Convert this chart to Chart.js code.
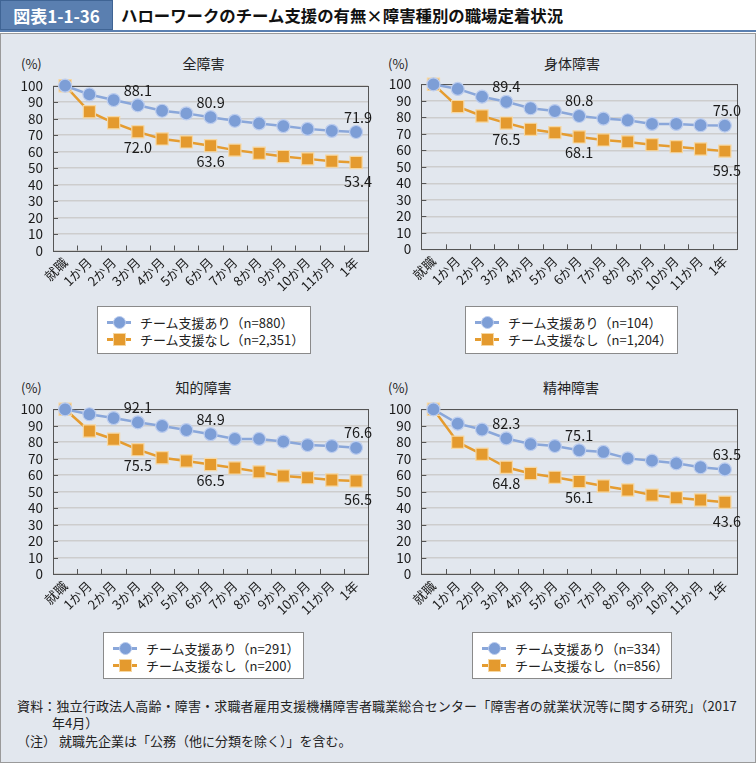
<!DOCTYPE html>
<html><head><meta charset="utf-8">
<script src="https://cdn.jsdelivr.net/npm/chart.js@4.4.1/dist/chart.umd.min.js"></script>
<style>
*{box-sizing:border-box}
body{margin:0;width:756px;height:763px;position:relative;background:#fff;font-family:"Noto Sans CJK JP","Noto Sans",sans-serif;color:#222;overflow:hidden}
.abs{position:absolute}
#tag{left:0;top:0;width:113px;height:30px;background:#5a7fb0;color:#fff;font-weight:bold;font-size:17px;line-height:30px;text-align:center;border:1px solid #3f6494}
#ttl{left:121px;top:0;height:30px;line-height:30px;font-weight:bold;font-size:16.4px;color:#111;white-space:nowrap}
#bar{left:0;top:30px;width:756px;height:2px;background:#5a7fb0}
#panel{left:0;top:33px;width:756px;height:730px;background:#e2e7ee;border:1px solid #9a9a9a}
.ct{font-size:14px;white-space:nowrap;transform:translate(-50%,-50%)}
.pc{font-size:13px;white-space:nowrap;transform:translate(0,-50%)}
.leg{background:#fff;border:1px solid #8a8a8a;font-size:13px}
.row{position:absolute;left:9px;height:17px;display:flex;align-items:center;white-space:nowrap}
.smp{position:relative;width:24px;height:17px;margin-right:9px}
.smp .ln{position:absolute;left:0;top:7px;width:24px;height:3px}
.smp .mk{position:absolute;left:6px;top:2px;width:13px;height:13px}
.foot{font-size:13px;white-space:nowrap;line-height:17px}
</style></head><body>
<div id="tag" class="abs">図表1-1-36</div>
<div id="ttl" class="abs">ハローワークのチーム支援の有無×障害種別の職場定着状況</div>
<div id="bar" class="abs"></div>
<div id="panel" class="abs"></div>
<div id="root"></div>
<div class="abs foot" style="left:17px;top:697px;letter-spacing:0.15px">資料：独立行政法人高齢・障害・求職者雇用支援機構障害者職業総合センター「障害者の就業状況等に関する研究」（2017</div>
<div class="abs foot" style="left:52px;top:714px">年4月）</div>
<div class="abs foot" style="left:17px;top:732px">（注）&nbsp;就職先企業は「公務（他に分類を除く）」を含む。</div>
<script>
// ---- data ----
const categories = ['就職','1か月','2か月','3か月','4か月','5か月','6か月','7か月','8か月','9か月','10か月','11か月','1年'];
const yTicks = [0,10,20,30,40,50,60,70,80,90,100];
const seriesNames = ['チーム支援あり','チーム支援なし'];
const labeledIndices = [3,6,12];

const panelTitles = ['全障害','身体障害','知的障害','精神障害'];
const nWith = ['880','104','291','334'];
const nWithout = ['2,351','1,204','200','856'];

const allWith      = [100,94.7,91.3,88.1,84.8,83.2,80.9,78.7,77.1,75.5,73.8,72.6,71.9];
const allWithout   = [100,84.2,77.5,72.0,67.7,65.9,63.6,60.9,59.0,57.0,55.6,54.2,53.4];
const physWith     = [100,97.2,92.5,89.4,85.5,83.8,80.8,79.2,78.2,76.0,76.0,75.2,75.0];
const physWithout  = [100,86.5,80.8,76.5,72.7,70.7,68.1,66.3,65.1,63.4,62.2,60.8,59.5];
const intWith      = [100,97.0,94.7,92.1,89.9,87.4,84.9,82.0,82.0,80.4,78.3,77.7,76.6];
const intWithout   = [100,86.8,81.8,75.5,70.6,68.6,66.5,64.4,62.0,59.5,58.5,57.1,56.5];
const mentWith     = [100,91.3,87.7,82.3,78.9,77.7,75.1,74.1,70.2,68.8,67.2,64.8,63.5];
const mentWithout  = [100,80.0,72.7,64.8,61.0,58.7,56.1,53.4,51.0,47.9,46.3,44.9,43.6];

const withSeries = [allWith, physWith, intWith, mentWith];
const withoutSeries = [allWithout, physWithout, intWithout, mentWithout];

// ---- layout (styles) ----
const FONT = '"Noto Sans CJK JP","Noto Sans",sans-serif';
const BLUE_LINE = '#8aa7da', BLUE_PT = '#7d9ed6', BLUE_EDGE = '#bccdef';
const ORG_LINE = '#e59c30', ORG_PT = '#e49a2e', ORG_EDGE = '#f6d7a2';
const layouts = [
  {cx:0,  cy:40,  pl:53,   pt:85.7,  pr:369, pb:250.5, tx:203.5, ty:62.7, px:21,  lg:[97,306,214,48]},
  {cx:378,cy:40,  pl:421.3,pt:84.3,  pr:737, pb:249.3, tx:572,   ty:63,   px:388, lg:[465,306,213,48]},
  {cx:0,  cy:370, pl:53,   pt:409.3, pr:369, pb:574,   tx:203.5, ty:387,  px:21,  lg:[103,632,201,47]},
  {cx:378,cy:370, pl:421.3,pt:409.3, pr:737, pb:574,   tx:571,   ty:387,  px:388, lg:[472,632,200,47]}
];
const CW = 378, CH = 260;

const decor = {
  id:'decor',
  beforeDatasetsDraw(chart){
    const {ctx, chartArea:a, scales:{x,y}} = chart;
    ctx.save();
    ctx.strokeStyle='#555'; ctx.lineWidth=1;
    ctx.beginPath();
    for(let i=1;i<categories.length;i++){
      const xp = Math.round((x.getPixelForValue(i-1)+x.getPixelForValue(i))/2)+0.5;
      ctx.moveTo(xp,a.bottom); ctx.lineTo(xp,a.bottom-5);
    }
    yTicks.forEach(v=>{const yp=Math.round(y.getPixelForValue(v))+0.5; ctx.moveTo(a.left,yp); ctx.lineTo(a.left+5,yp);});
    ctx.stroke();
    ctx.strokeRect(Math.round(a.left)+0.5,Math.round(a.top)+0.5,Math.round(a.right-a.left),Math.round(a.bottom-a.top));
    ctx.restore();
  },
  afterDatasetsDraw(chart){
    const {ctx} = chart;
    ctx.save();
    ctx.font = '14.5px '+FONT; ctx.fillStyle='#1a1a1a'; ctx.textAlign='center'; ctx.textBaseline='middle';
    chart.data.datasets.forEach((ds,i)=>{
      const meta = chart.getDatasetMeta(i);
      labeledIndices.forEach(idx=>{
        const p = meta.data[idx];
        const dx = idx===categories.length-1 ? 2 : 0;
        const dy = i===0 ? -15 : (idx===categories.length-1 ? 19 : 16);
        ctx.fillText(ds.data[idx].toFixed(1), p.x+dx, p.y+dy);
      });
    });
    ctx.restore();
  }
};

const root = document.getElementById('root');
layouts.forEach((L,k)=>{
  const t = document.createElement('div'); t.className='abs ct'; t.style.left=L.tx+'px'; t.style.top=L.ty+'px'; t.textContent=panelTitles[k]; root.appendChild(t);
  const p = document.createElement('div'); p.className='abs pc'; p.style.left=L.px+'px'; p.style.top=L.ty+'px'; p.textContent='(%)'; root.appendChild(p);
  const lg = document.createElement('div'); lg.className='abs leg';
  lg.style.left=L.lg[0]+'px'; lg.style.top=L.lg[1]+'px'; lg.style.width=L.lg[2]+'px'; lg.style.height=L.lg[3]+'px';
  const rows = [
    {txt:seriesNames[0]+'（n='+nWith[k]+'）', line:BLUE_LINE, pt:BLUE_PT, edge:BLUE_EDGE, round:true, top:7},
    {txt:seriesNames[1]+'（n='+nWithout[k]+'）', line:ORG_LINE, pt:ORG_PT, edge:ORG_EDGE, round:false, top:24}
  ];
  rows.forEach(r=>{
    const d=document.createElement('div'); d.className='row'; d.style.top=r.top+'px';
    d.innerHTML='<div class="smp"><div class="ln" style="background:'+r.line+'"></div><div class="mk" style="background:'+r.pt+';border:1px solid '+r.edge+';border-radius:'+(r.round?'50%':'0')+'"></div></div><span>'+r.txt+'</span>';
    lg.appendChild(d);
  });
  root.appendChild(lg);
  const wrap = document.createElement('div'); wrap.className='abs';
  wrap.style.left=L.cx+'px'; wrap.style.top=L.cy+'px'; wrap.style.width=CW+'px'; wrap.style.height=CH+'px';
  const cv = document.createElement('canvas'); cv.width=CW; cv.height=CH; cv.style.width=CW+'px'; cv.style.height=CH+'px';
  wrap.appendChild(cv); root.appendChild(wrap);
  const yW = L.pl-L.cx, xH = L.cy+CH-L.pb;
  new Chart(cv,{
    type:'line',
    data:{labels:categories, datasets:[
      {label:seriesNames[0], data:withSeries[k], borderColor:BLUE_LINE, borderWidth:2.5, backgroundColor:BLUE_PT,
       pointStyle:'circle', pointRadius:6.5, pointBackgroundColor:BLUE_PT, pointBorderColor:BLUE_EDGE, pointBorderWidth:1.2, clip:false, tension:0},
      {label:seriesNames[1], data:withoutSeries[k], borderColor:ORG_LINE, borderWidth:2.5, backgroundColor:ORG_PT,
       pointStyle:'rect', pointRadius:8.6, pointBackgroundColor:ORG_PT, pointBorderColor:ORG_EDGE, pointBorderWidth:1.2, clip:false, tension:0}
    ]},
    options:{
      responsive:false, animation:false, devicePixelRatio:1,
      layout:{padding:{left:0, top:L.pt-L.cy, right:L.cx+CW-L.pr, bottom:0}},
      plugins:{legend:{display:false}, tooltip:{enabled:false}, title:{display:false}},
      scales:{
        x:{type:'category', offset:true,
           grid:{display:false, drawTicks:false}, border:{display:false},
           ticks:{autoSkip:false, maxRotation:45, minRotation:45, padding:4, color:'#1a1a1a', font:{family:FONT, size:13}},
           afterFit(s){ s.height = xH; }},
        y:{min:0, max:100,
           afterBuildTicks(s){ s.ticks = yTicks.map(v=>({value:v})); },
           grid:{color:'#cdcdcd', lineWidth:1.5, drawTicks:false}, border:{display:false},
           ticks:{autoSkip:false, padding:10, color:'#1a1a1a', font:{family:FONT, size:13.5}},
           afterFit(s){ s.width = yW; }}
      }
    },
    plugins:[decor]
  });
});
</script>
</body></html>
